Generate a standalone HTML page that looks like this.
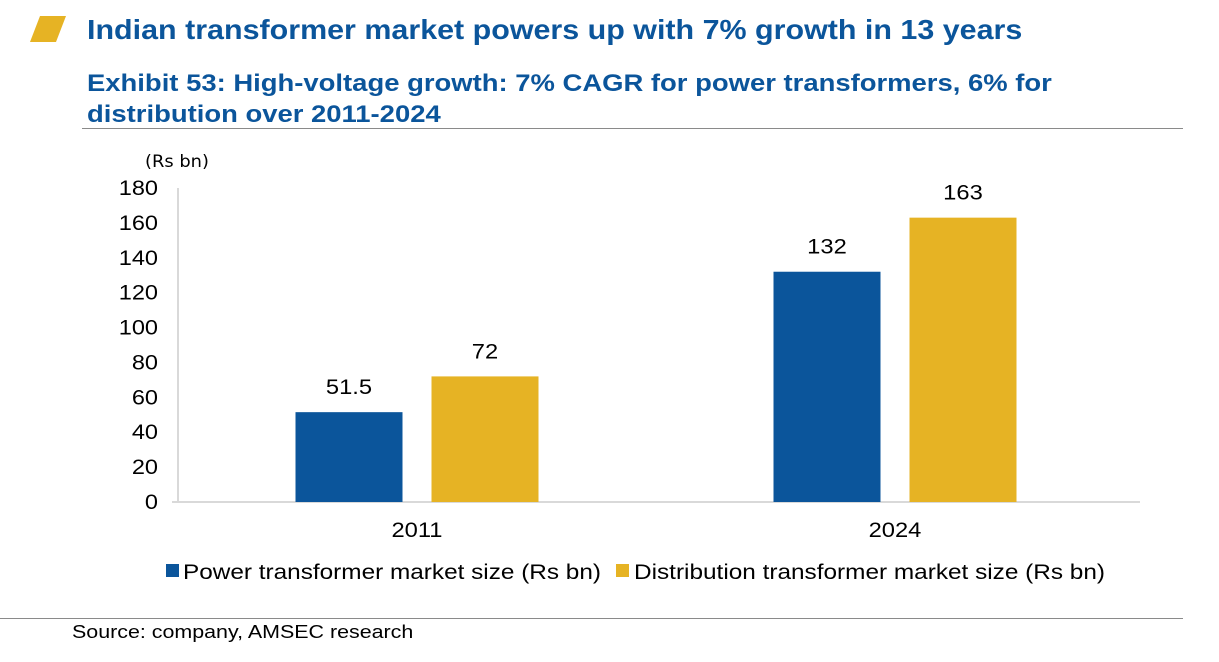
<!DOCTYPE html>
<html><head><meta charset="utf-8"><style>
body{margin:0;width:1219px;height:662px;background:#fff;font-family:"Liberation Sans",sans-serif;overflow:hidden;position:relative}
.t{position:absolute;white-space:nowrap;transform-origin:0 0}
</style></head><body>
<svg style="position:absolute;left:30px;top:16px" width="36" height="27"><polygon points="10,0 36,0 26,26 0,26" fill="#e6b324"/></svg>
<div class="t" style="left:87px;top:14px;font-size:28px;font-weight:bold;color:#0b559b;transform:scaleX(1.087)">Indian transformer market powers up with 7% growth in 13 years</div>
<div class="t" style="left:87px;top:68px;font-size:24px;font-weight:bold;color:#0b559b;line-height:31px;transform:scaleX(1.143)">Exhibit 53: High-voltage growth: 7% CAGR for power transformers, 6% for<br>distribution over 2011-2024</div>
<div style="position:absolute;left:82px;top:128px;width:1101px;height:1px;background:#8a8a8a"></div>
<div style="position:absolute;left:0;top:618px;width:1183px;height:1px;background:#8a8a8a"></div>
<div class="t" style="left:72px;top:622px;font-size:18px;color:#000;transform:scaleX(1.19)">Source: company, AMSEC research</div>
<svg id="chart" style="position:absolute;left:0;top:0" width="1219" height="662"></svg>
<script>
const categories=["2011","2024"];
const powerValues=[51.5,132];
const distValues=[72,163];
const powerLabels=["51.5","132"];
const distLabels=["72","163"];
const yTicks=[0,20,40,60,80,100,120,140,160,180];
const svg=document.getElementById('chart');
const NS='http://www.w3.org/2000/svg';
const x0=178,x1=1134,y0=502,yTop=188,yMax=180;
function yS(v){return y0-(v/yMax)*(y0-yTop);}
function mk(t,a){const e=document.createElementNS(NS,t);for(const k in a)e.setAttribute(k,a[k]);svg.appendChild(e);return e;}
function txt(s,a,st){const e=mk('text',a);e.textContent=s;const w=e.getComputedTextLength();e.setAttribute('textLength',w*(st||1.13));e.setAttribute('lengthAdjust','spacingAndGlyphs');return e;}
const lab=txt('(Rs bn)',{x:145,y:167,'font-size':17,'font-family':'DejaVu Sans, sans-serif',fill:'#000'},1.05);


const ya=mk('line',{x1:x0,y1:yTop,x2:x0,y2:y0,stroke:'#d9d9d9','stroke-width':2});


const xa=mk('line',{x1:x0-6,y1:y0,x2:1140,y2:y0,stroke:'#d9d9d9','stroke-width':2});


yTicks.forEach(v=>{const t=txt(String(v),{x:158,y:yS(v)+7,'font-size':21,'text-anchor':'end',fill:'#000'},1.12);

});
const groupW=(x1-x0)/categories.length;
const barW=107,gap=29;
categories.forEach((c,i)=>{
 const cx=x0+groupW*(i+0.5);
 const bx1=cx-gap/2-barW, bx2=cx+gap/2;
 const b1=mk('rect',{x:bx1,y:yS(powerValues[i]),width:barW,height:y0-yS(powerValues[i]),fill:'#0b559b'});
 
 
 const b2=mk('rect',{x:bx2,y:yS(distValues[i]),width:barW,height:y0-yS(distValues[i]),fill:'#e6b324'});
 
 
 const l1=txt(powerLabels[i],{x:bx1+barW/2,y:yS(powerValues[i])-18,'font-size':21,'text-anchor':'middle',fill:'#000'});
 
 
 const l2=txt(distLabels[i],{x:bx2+barW/2,y:yS(distValues[i])-18,'font-size':21,'text-anchor':'middle',fill:'#000'});
 
 
 const xl=txt(c,{x:cx,y:537,'font-size':21,'text-anchor':'middle',fill:'#000'});
 
 
});
const g1=mk('rect',{x:166,y:564,width:13,height:13,fill:'#0b559b'});


const lt1=mk('text',{x:183,y:579,'font-size':21,fill:'#000',textLength:418,lengthAdjust:'spacingAndGlyphs'});
lt1.textContent='Power transformer market size (Rs bn)';


const g2=mk('rect',{x:616,y:564,width:13,height:13,fill:'#e6b324'});


const lt2=mk('text',{x:634,y:579,'font-size':21,fill:'#000',textLength:471,lengthAdjust:'spacingAndGlyphs'});
lt2.textContent='Distribution transformer market size (Rs bn)';


</script>
</body></html>
